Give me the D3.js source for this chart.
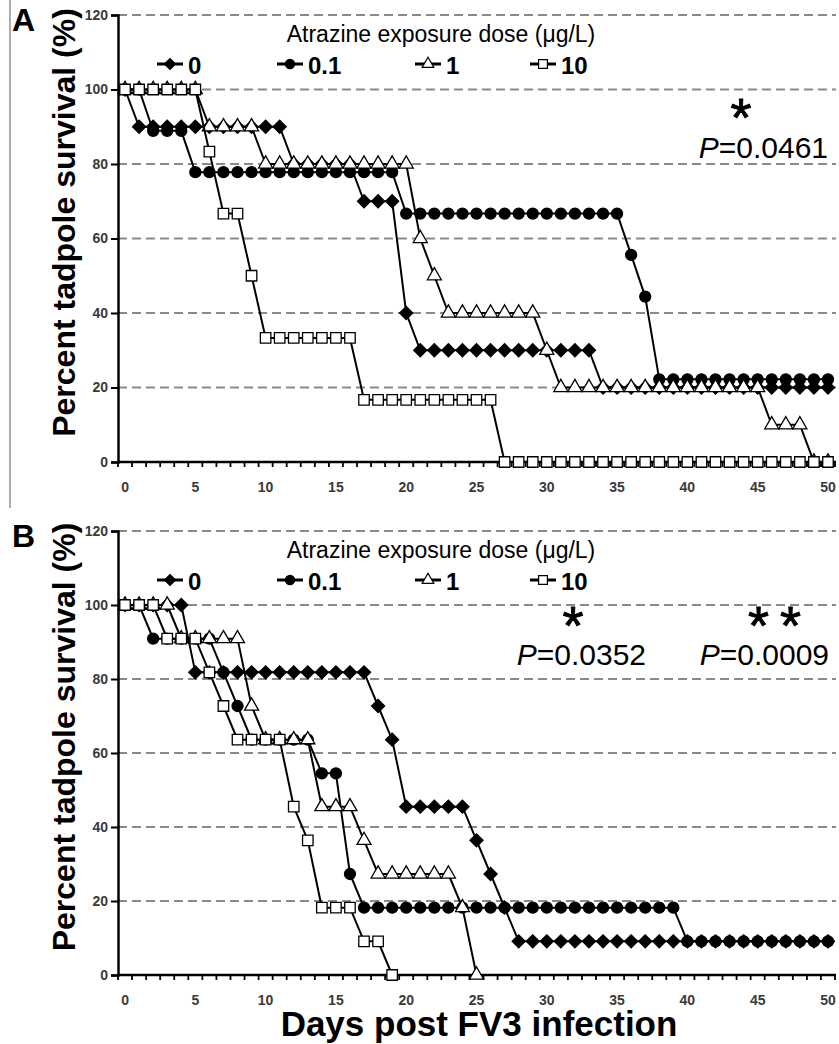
<!DOCTYPE html>
<html>
<head>
<meta charset="utf-8">
<script src="https://cdn.jsdelivr.net/npm/d3@7"></script>
<style>
body { margin: 0; background: #fff; }
svg { display: block; font-family: "Liberation Sans", Arial, sans-serif; }
</style>
</head>
<body>
<svg id="chart" width="839" height="1044"></svg>
<script>
// Percent survival per day (index = day post infection)
var doses = ["0", "0.1", "1", "10"];
var yTicks = [0, 20, 40, 60, 80, 100, 120];
var xTickLabels = [0, 5, 10, 15, 20, 25, 30, 35, 40, 45, 50];

var survivalA0 = [100, 90, 90, 90, 90, 90, 90, 90, 90, 90, 90, 90, 80, 80, 80, 80, 80, 70, 70, 70,
    40, 30, 30, 30, 30, 30, 30, 30, 30, 30, 30, 30, 30, 30, 20, 20, 20, 20, 20, 20,
    20, 20, 20, 20, 20, 20, 20, 20, 20, 20, 20];
var survivalA01 = [100, 100, 88.9, 88.9, 88.9, 77.8, 77.8, 77.8, 77.8, 77.8, 77.8, 77.8, 77.8, 77.8, 77.8, 77.8, 77.8, 77.8, 77.8, 77.8,
    66.7, 66.7, 66.7, 66.7, 66.7, 66.7, 66.7, 66.7, 66.7, 66.7, 66.7, 66.7, 66.7, 66.7, 66.7, 66.7, 55.6, 44.4, 22.2, 22.2,
    22.2, 22.2, 22.2, 22.2, 22.2, 22.2, 22.2, 22.2, 22.2, 22.2, 22.2];
var survivalA1 = [100, 100, 100, 100, 100, 100, 90, 90, 90, 90, 80, 80, 80, 80, 80, 80, 80, 80, 80, 80,
    80, 60, 50, 40, 40, 40, 40, 40, 40, 40, 30, 20, 20, 20, 20, 20, 20, 20, 20, 20,
    20, 20, 20, 20, 20, 20, 10, 10, 10, 0, 0];
var survivalA10 = [100, 100, 100, 100, 100, 100, 83.3, 66.7, 66.7, 50, 33.3, 33.3, 33.3, 33.3, 33.3, 33.3, 33.3, 16.7, 16.7, 16.7,
    16.7, 16.7, 16.7, 16.7, 16.7, 16.7, 16.7, 0, 0, 0, 0, 0, 0, 0, 0, 0, 0, 0, 0, 0,
    0, 0, 0, 0, 0, 0, 0, 0, 0, 0, 0];

var survivalB0 = [100, 100, 100, 100, 100, 81.8, 81.8, 81.8, 81.8, 81.8, 81.8, 81.8, 81.8, 81.8, 81.8, 81.8, 81.8, 81.8, 72.7, 63.6,
    45.5, 45.5, 45.5, 45.5, 45.5, 36.4, 27.3, 18.2, 9.1, 9.1, 9.1, 9.1, 9.1, 9.1, 9.1, 9.1, 9.1, 9.1, 9.1, 9.1,
    9.1, 9.1, 9.1, 9.1, 9.1, 9.1, 9.1, 9.1, 9.1, 9.1, 9.1];
var survivalB01 = [100, 100, 90.9, 90.9, 90.9, 90.9, 90.9, 81.8, 72.7, 63.6, 63.6, 63.6, 63.6, 63.6, 54.5, 54.5, 27.3, 18.2, 18.2, 18.2,
    18.2, 18.2, 18.2, 18.2, 18.2, 18.2, 18.2, 18.2, 18.2, 18.2, 18.2, 18.2, 18.2, 18.2, 18.2, 18.2, 18.2, 18.2, 18.2, 18.2,
    9.1, 9.1, 9.1, 9.1, 9.1, 9.1, 9.1, 9.1, 9.1, 9.1, 9.1];
var survivalB1 = [100, 100, 100, 100, 90.9, 90.9, 90.9, 90.9, 90.9, 72.7, 63.6, 63.6, 63.6, 63.6, 45.5, 45.5, 45.5, 36.4, 27.3, 27.3,
    27.3, 27.3, 27.3, 27.3, 18.2, 0];
var survivalB10 = [100, 100, 100, 90.9, 90.9, 90.9, 81.8, 72.7, 63.6, 63.6, 63.6, 63.6, 45.5, 36.4, 18.2, 18.2, 18.2, 9.1, 9.1, 0];

var pValuesA = ["0.0461"];
var starsA = ["*"];
var pValuesB = ["0.0352", "0.0009"];
var starsB = ["*", "**"];

var svg = d3.select("svg#chart");

var markerTypes = [
    {type: d3.symbolSquare, size: 85, rotate: 45, fill: "#000"},
    {type: d3.symbolCircle, size: 95, rotate: 0, fill: "#000"},
    {type: d3.symbolTriangle, size: 85, rotate: 0, fill: "#fff"},
    {type: d3.symbolSquare, size: 110, rotate: 0, fill: "#fff"}
];

var xScale = d3.scaleLinear().domain([-0.5, 50.5]).range([118, 835]);

// frame line at the left of panel A
svg.append("line")
    .attr("x1", 10).attr("x2", 10)
    .attr("y1", 0).attr("y2", 508)
    .style("stroke", "#777")
    .style("stroke-width", 1.2);

function drawPanel(p) {
    var g = svg.append("g");
    var yScale = d3.scaleLinear().domain([0, 120]).range([p.bottom, p.top]);

    // dashed gridlines
    g.append("g").selectAll("line")
        .data(yTicks.filter(d => d > 0))
        .enter().append("line")
        .attr("x1", 118).attr("x2", 836)
        .attr("y1", d => yScale(d)).attr("y2", d => yScale(d))
        .style("stroke", "#8a8a8a")
        .style("stroke-width", 2)
        .style("stroke-dasharray", "9,5");

    // y axis
    var yAxis = g.append("g")
        .attr("transform", "translate(118,0)")
        .call(d3.axisLeft(yScale).tickValues(yTicks).tickSize(7).tickPadding(3));
    yAxis.select(".domain").style("stroke", "#000").style("stroke-width", 2.5);
    yAxis.selectAll(".tick line").style("stroke", "#000").style("stroke-width", 2);
    yAxis.selectAll("text")
        .style("font-size", "14px").style("font-weight", "bold").style("fill", "#3a3a3a");

    // x axis: ticks between days, labels every 5 days
    var xAxis = g.append("g")
        .attr("transform", "translate(0," + p.bottom + ")");
    xAxis.append("line")
        .attr("x1", 118).attr("x2", 836)
        .style("stroke", "#000").style("stroke-width", 2.5);
    xAxis.selectAll("line.tk")
        .data(d3.range(0, 52))
        .enter().append("line")
        .attr("class", "tk")
        .attr("x1", d => xScale(d - 0.5)).attr("x2", d => xScale(d - 0.5))
        .attr("y1", 0).attr("y2", 5)
        .style("stroke", "#000").style("stroke-width", 1.8);
    xAxis.selectAll("text")
        .data(xTickLabels)
        .enter().append("text")
        .attr("x", d => xScale(d))
        .attr("y", 30)
        .style("text-anchor", "middle")
        .style("font-size", "14px").style("font-weight", "bold").style("fill", "#3a3a3a")
        .text(d => d);

    // survival curves
    var line = d3.line()
        .x((d, i) => xScale(i))
        .y(d => yScale(d));

    p.series.forEach(function(values, k) {
        var m = markerTypes[k];
        g.append("path")
            .datum(values)
            .attr("d", line)
            .style("fill", "none")
            .style("stroke", "#000")
            .style("stroke-width", 2);
        g.append("g").selectAll("path")
            .data(values)
            .enter().append("path")
            .attr("d", d3.symbol().type(m.type).size(m.size))
            .attr("transform", (d, i) => "translate(" + xScale(i) + "," + yScale(d) + ") rotate(" + m.rotate + ")")
            .style("fill", m.fill)
            .style("stroke", "#000")
            .style("stroke-width", 1.3);
    });

    // legend
    g.append("text")
        .attr("x", 441).attr("y", p.top + 27)
        .style("text-anchor", "middle")
        .style("font-size", "23px")
        .text("Atrazine exposure dose (\u03bcg/L)");

    var legendX = [170, 290, 428, 543];
    var legend = g.selectAll("g.legend")
        .data(doses)
        .enter().append("g")
        .attr("class", "legend")
        .attr("transform", (d, i) => "translate(" + legendX[i] + "," + (p.top + 49) + ")");
    legend.append("line")
        .attr("x1", -13).attr("x2", 13)
        .style("stroke", "#000").style("stroke-width", 3);
    legend.append("path")
        .attr("d", (d, i) => d3.symbol().type(markerTypes[i].type).size(markerTypes[i].size * 0.7)())
        .attr("transform", (d, i) => "rotate(" + markerTypes[i].rotate + ")")
        .style("fill", (d, i) => markerTypes[i].fill)
        .style("stroke", "#000")
        .style("stroke-width", 1.2);
    legend.append("text")
        .attr("x", 18).attr("y", 10)
        .style("font-family", "'Liberation Sans Narrow', 'Arial Narrow', 'Liberation Sans', sans-serif")
        .style("font-stretch", "condensed")
        .style("font-size", "24px").style("font-weight", "bold")
        .text(d => d);

    // significance marks
    p.stats.forEach(function(s) {
        g.append("text")
            .attr("x", s.starX).attr("y", s.starY)
            .style("text-anchor", "middle")
            .style("font-size", "54px")
            .style("stroke", "#000")
            .style("stroke-width", 0.9)
            .style("letter-spacing", s.star.length > 1 ? "11px" : "0px")
            .text(s.star);
        var t = g.append("text")
            .attr("x", s.pX).attr("y", s.pY)
            .style("text-anchor", "end")
            .style("font-size", "30px");
        t.append("tspan").style("font-style", "italic").text("P");
        t.append("tspan").text("=" + s.p);
    });

    // panel letter and axis title
    svg.append("text")
        .attr("x", 12).attr("y", p.top + 16)
        .style("font-size", "32px").style("font-weight", "bold")
        .text(p.letter);
    svg.append("text")
        .attr("transform", "translate(75," + ((p.top + p.bottom) / 2 - 16) + ") rotate(-90)")
        .style("text-anchor", "middle")
        .style("font-size", "32px").style("font-weight", "bold")
        .text("Percent tadpole survival (%)");
}

drawPanel({
    letter: "A", top: 15, bottom: 462,
    series: [survivalA0, survivalA01, survivalA1, survivalA10],
    stats: [{star: starsA[0], p: pValuesA[0], starX: 741, starY: 136, pX: 828, pY: 158}]
});

drawPanel({
    letter: "B", top: 531, bottom: 975,
    series: [survivalB0, survivalB01, survivalB1, survivalB10],
    stats: [
        {star: starsB[0], p: pValuesB[0], starX: 573, starY: 644, pX: 646, pY: 665},
        {star: starsB[1], p: pValuesB[1], starX: 780, starY: 644, pX: 829, pY: 665}
    ]
});

svg.append("text")
    .attr("x", 479).attr("y", 1036)
    .style("text-anchor", "middle")
    .style("font-size", "35px").style("font-weight", "bold")
    .text("Days post FV3 infection");
</script>
</body>
</html>
